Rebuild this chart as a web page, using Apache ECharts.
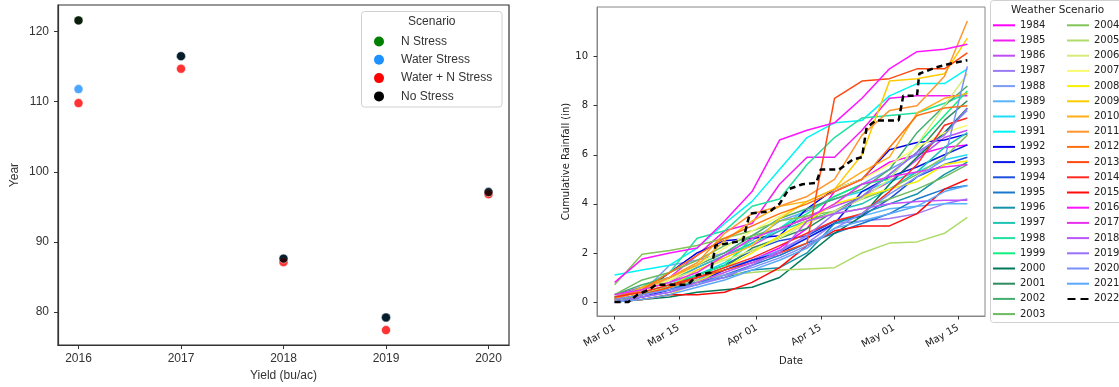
<!DOCTYPE html>
<html>
<head>
<meta charset="utf-8">
<script src="https://cdn.jsdelivr.net/npm/echarts@6/dist/echarts.min.js"></script>
<style>
  html, body { margin: 0; padding: 0; background: #fff; }
  #main { width: 1119px; height: 387px; }
</style>
</head>
<body>
<div id="main"></div>
<script>
// ---- left panel: yield by scenario ----
var yieldYears = [2016, 2017, 2018, 2019, 2020];
var nStress = [121.6, 116.5, 87.6, 79.2, 97.1];
var waterStress = [111.8, 116.5, 87.6, 79.2, 97.1];
var waterNStress = [109.8, 114.7, 87.1, 77.4, 96.8];
var noStress = [121.6, 116.5, 87.6, 79.2, 97.1];
var scenarioNames = ['N Stress', 'Water Stress', 'Water + N Stress', 'No Stress'];

// ---- right panel: cumulative rainfall (in), sampled on gridDays (days after Mar 01) ----
var gridDays = [0, 6, 12, 18, 24, 30, 36, 42, 48, 54, 60, 66, 72, 77];
var rain1984 = [0.2, 0.4, 0.6, 1.0, 1.3, 1.7, 2.2, 3.0, 4.5, 5.0, 5.7, 6.0, 6.3, 6.4];
var rain1985 = [0.3, 0.6, 1.0, 1.9, 2.9, 3.2, 4.8, 5.9, 5.9, 7.0, 8.3, 8.4, 8.4, 8.4];
var rain1986 = [0.2, 0.5, 0.8, 1.4, 1.9, 2.3, 2.9, 3.5, 3.9, 4.3, 4.9, 5.8, 6.7, 7.0];
var rain1987 = [0.1, 0.3, 0.6, 0.9, 1.3, 1.7, 1.9, 2.4, 3.2, 3.3, 3.4, 3.6, 4.0, 4.2];
var rain1988 = [0.1, 0.4, 1.5, 1.7, 2.0, 2.5, 3.3, 3.7, 4.3, 4.8, 5.4, 6.0, 6.9, 7.8];
var rain1989 = [0.0, 0.2, 0.5, 0.9, 1.4, 1.7, 2.1, 2.6, 3.2, 3.5, 3.8, 3.9, 4.0, 4.0];
var rain1990 = [0.2, 0.5, 0.8, 1.1, 1.6, 2.4, 3.0, 3.8, 4.2, 4.5, 4.9, 5.3, 5.8, 6.0];
var rain1991 = [1.1, 1.3, 1.5, 2.2, 3.2, 4.1, 5.4, 6.7, 7.3, 7.4, 8.4, 8.9, 8.9, 9.5];
var rain1992 = [0.1, 0.4, 1.2, 2.0, 2.5, 2.6, 2.7, 3.8, 4.6, 5.0, 6.2, 6.5, 6.6, 6.85];
var rain1993 = [0.0, 0.2, 0.5, 0.8, 1.3, 1.7, 2.0, 2.6, 3.2, 4.5, 5.1, 5.5, 6.0, 6.4];
var rain1994 = [0.1, 0.3, 0.6, 1.1, 1.5, 2.1, 2.5, 2.7, 3.3, 3.5, 4.2, 5.1, 5.6, 5.9];
var rain1995 = [0.1, 0.3, 0.5, 0.8, 1.1, 1.5, 1.9, 2.4, 2.8, 3.2, 3.6, 4.2, 4.6, 4.75];
var rain1996 = [0.2, 0.4, 0.6, 0.8, 1.0, 1.3, 1.4, 2.0, 3.2, 3.6, 4.0, 4.4, 5.2, 5.7];
var rain1997 = [0.1, 0.5, 0.9, 1.4, 1.9, 2.4, 2.9, 3.3, 3.7, 4.0, 4.6, 5.3, 6.3, 6.9];
var rain1998 = [0.2, 0.6, 1.2, 2.6, 2.9, 3.9, 4.2, 5.6, 6.7, 7.5, 7.6, 7.7, 8.1, 8.5];
var rain1999 = [0.0, 0.3, 0.7, 1.1, 1.5, 2.6, 3.0, 3.6, 4.3, 4.8, 5.0, 6.4, 7.6, 8.6];
var rain2000 = [0.0, 0.1, 0.2, 0.4, 0.5, 0.6, 1.0, 1.9, 2.8, 3.5, 4.8, 5.9, 6.9, 7.9];
var rain2001 = [0.1, 0.3, 0.6, 1.0, 1.4, 2.2, 2.6, 3.0, 3.7, 4.3, 5.2, 6.1, 7.4, 8.2];
var rain2002 = [0.3, 0.7, 1.0, 1.5, 2.0, 2.7, 3.4, 3.8, 4.2, 4.6, 5.4, 6.9, 8.0, 8.8];
var rain2003 = [0.3, 0.9, 1.2, 1.7, 2.3, 2.7, 3.0, 3.4, 3.6, 3.8, 4.2, 4.6, 5.1, 5.6];
var rain2004 = [0.7, 1.95, 2.1, 2.3, 2.6, 2.9, 3.3, 3.5, 3.7, 4.2, 4.6, 5.2, 5.9, 6.8];
var rain2005 = [0.2, 0.4, 0.6, 0.9, 1.1, 1.2, 1.3, 1.35, 1.4, 2.0, 2.4, 2.45, 2.8, 3.45];
var rain2006 = [0.2, 0.5, 0.9, 1.3, 1.7, 2.1, 2.6, 3.2, 3.7, 4.2, 5.0, 6.4, 8.0, 9.3];
var rain2007 = [0.1, 0.4, 0.9, 1.5, 2.2, 2.9, 3.5, 4.1, 4.6, 5.0, 5.6, 6.3, 6.9, 7.2];
var rain2008 = [0.0, 0.1, 0.3, 0.8, 1.4, 2.0, 2.7, 3.3, 4.0, 4.3, 4.6, 4.9, 5.6, 5.75];
var rain2009 = [0.1, 0.3, 0.6, 1.3, 1.8, 2.3, 3.4, 4.1, 4.6, 6.0, 9.0, 9.1, 9.3, 10.75];
var rain2010 = [0.1, 0.6, 1.0, 1.5, 2.5, 3.3, 3.9, 4.1, 4.6, 5.3, 5.9, 7.7, 8.3, 8.5];
var rain2011 = [0.1, 0.5, 1.0, 1.6, 2.8, 3.6, 3.9, 4.3, 5.0, 6.8, 7.8, 8.0, 9.2, 11.45];
var rain2012 = [0.2, 0.5, 1.2, 1.9, 2.6, 3.1, 3.6, 4.0, 4.5, 5.0, 6.3, 7.6, 7.9, 8.0];
var rain2013 = [0.1, 0.3, 0.6, 1.0, 1.3, 1.6, 2.0, 2.4, 8.3, 9.0, 9.1, 9.5, 9.5, 10.15];
var rain2014 = [0.2, 0.4, 0.7, 1.0, 1.4, 1.8, 2.3, 2.8, 3.3, 3.6, 4.5, 5.6, 7.2, 7.5];
var rain2015 = [0.0, 0.1, 0.3, 0.3, 0.4, 0.8, 1.4, 2.3, 2.9, 3.1, 3.1, 3.6, 4.6, 5.0];
var rain2016 = [0.8, 1.75, 2.0, 2.2, 3.3, 4.5, 6.6, 7.0, 7.3, 8.3, 9.5, 10.2, 10.3, 10.5];
var rain2017 = [0.3, 0.5, 0.8, 1.2, 1.9, 2.6, 3.0, 3.4, 4.0, 4.8, 5.1, 5.3, 5.5, 5.6];
var rain2018 = [0.0, 0.2, 0.4, 0.8, 1.2, 1.6, 2.0, 3.3, 3.6, 3.8, 4.0, 4.1, 4.15, 4.15];
var rain2019 = [0.0, 0.2, 0.4, 0.7, 1.0, 1.5, 2.1, 2.7, 3.6, 4.3, 5.2, 6.1, 6.8, 7.9];
var rain2020 = [0.1, 0.3, 0.5, 0.7, 1.1, 1.4, 1.8, 2.3, 3.0, 3.6, 4.4, 5.1, 5.8, 9.6];
var rain2021 = [0.0, 0.1, 0.3, 0.6, 0.9, 1.3, 1.7, 2.2, 3.0, 3.3, 3.6, 3.9, 4.5, 4.75];
// 2022 (current season) traced in more detail
var days2022 = [0, 3, 5, 7.5, 9, 16, 18, 21, 22, 28, 29.5, 34, 36, 38, 41, 44, 45, 49, 52, 54, 55, 57, 62, 63, 66, 66.5, 70, 73, 77];
var rain2022 = [0, 0, 0.3, 0.5, 0.7, 0.7, 1.1, 1.2, 2.3, 2.5, 3.6, 3.7, 4.0, 4.6, 4.8, 4.85, 5.4, 5.4, 5.8, 5.9, 7.1, 7.4, 7.4, 8.4, 8.4, 9.3, 9.55, 9.7, 9.85];

var weatherYears = [];
for (var y = 1984; y <= 2021; y++) weatherYears.push(y);
var rainSeries = [rain1984, rain1985, rain1986, rain1987, rain1988, rain1989, rain1990, rain1991,
  rain1992, rain1993, rain1994, rain1995, rain1996, rain1997, rain1998, rain1999, rain2000,
  rain2001, rain2002, rain2003, rain2004, rain2005, rain2006, rain2007, rain2008, rain2009,
  rain2010, rain2011, rain2012, rain2013, rain2014, rain2015, rain2016, rain2017, rain2018,
  rain2019, rain2020, rain2021];

var dateTickDays = [0, 14, 31, 45, 61, 75];
var dateTickLabels = ['Mar 01', 'Mar 15', 'Apr 01', 'Apr 15', 'May 01', 'May 15'];

// styles
var scenarioColors = ['#008000', '#1e90ff', '#ff0000', '#000000'];
var lineColors = ['#ff00ff', '#f01ef0', '#c04cf5', '#9b7bf5', '#7b9cf7', '#5ab4fa', '#22dcf5', '#00f5f5',
  '#0000ee', '#0a18e8', '#1f50dd', '#1a78cc', '#1593aa', '#1ec4b4', '#22e0a0', '#10f080',
  '#00785a', '#2e8b60', '#45ad70', '#6cbb60', '#82c45a', '#aedb6a', '#d6ec78', '#fafa6e',
  '#f8f000', '#fccc00', '#ffae1a', '#ff952e', '#ff7010', '#ff4a10', '#ff2a20', '#ff0a0a',
  '#ff14ff', '#e830f0', '#bd55fa', '#9970fa', '#7890fa', '#5aa8fa'];

var leftFont = '"Liberation Sans", Arial, sans-serif';
var rightFont = '"DejaVu Sans", sans-serif';

function pairs(xs, ys) {
  return xs.map(function (x, i) { return [x, ys[i]]; });
}

var series = [];
[nStress, waterStress, waterNStress, noStress].forEach(function (vals, i) {
  series.push({
    name: scenarioNames[i],
    type: 'scatter',
    xAxisIndex: 0,
    yAxisIndex: 0,
    symbolSize: 9,
    data: pairs(yieldYears, vals),
    itemStyle: { color: scenarioColors[i], opacity: 0.8, borderColor: '#fff', borderWidth: 0.6 }
  });
});

weatherYears.forEach(function (yr, i) {
  series.push({
    name: String(yr),
    type: 'line',
    xAxisIndex: 1,
    yAxisIndex: 1,
    symbol: 'none',
    data: pairs(gridDays, rainSeries[i]),
    lineStyle: { color: lineColors[i], width: 1.5 },
    itemStyle: { color: lineColors[i] }
  });
});
series.push({
  name: '2022',
  type: 'line',
  xAxisIndex: 1,
  yAxisIndex: 1,
  symbol: 'none',
  data: pairs(days2022, rain2022),
  lineStyle: { color: '#000', width: 2.5, type: [6, 4] },
  itemStyle: { color: '#000' }
});

var legendCol1 = weatherYears.slice(0, 20).map(String);
var legendCol2 = weatherYears.slice(20).map(String);
legendCol2.push({ name: '2022', icon: 'path://M0,0h8v2h-8z M13,0h8v2h-8z' });

var chart = echarts.init(document.getElementById('main'));
var option = {
  animation: false,
  grid: [
    { left: 58, right: 610, top: 5, bottom: 41, show: true, borderColor: '#333', borderWidth: 1.2 },
    { left: 597, right: 134, top: 7, bottom: 71, show: true, borderColor: '#888', borderWidth: 1 }
  ],
  xAxis: [
    {
      type: 'value', gridIndex: 0, min: 2015.8, max: 2020.2,
      name: 'Yield (bu/ac)', nameLocation: 'middle', nameGap: 24,
      nameTextStyle: { fontFamily: leftFont, fontSize: 12, color: '#333' },
      axisLine: { show: true, onZero: false, lineStyle: { color: '#333', width: 1.2 } },
      axisTick: { show: true, length: 4, customValues: yieldYears, lineStyle: { color: '#333' } },
      axisLabel: { customValues: yieldYears, margin: 8, fontFamily: leftFont, fontSize: 12, color: '#333',
        formatter: function (v) { return String(v); } },
      splitLine: { show: false }
    },
    {
      type: 'value', gridIndex: 1, min: -3.85, max: 80.85,
      name: 'Date', nameLocation: 'middle', nameGap: 40,
      nameTextStyle: { fontFamily: rightFont, fontSize: 10, color: '#222' },
      axisLine: { show: true, onZero: false, lineStyle: { color: '#888' } },
      axisTick: { show: true, length: 3.5, customValues: dateTickDays, lineStyle: { color: '#333' } },
      axisLabel: { customValues: dateTickDays, rotate: 30, margin: 11, fontFamily: rightFont, fontSize: 10, color: '#222',
        formatter: function (v) { return dateTickLabels[dateTickDays.indexOf(v)]; } },
      splitLine: { show: false }
    }
  ],
  yAxis: [
    {
      type: 'value', gridIndex: 0, min: 75.26, max: 123.8,
      name: 'Year', nameLocation: 'middle', nameGap: 37,
      nameTextStyle: { fontFamily: leftFont, fontSize: 12, color: '#333' },
      axisLine: { show: true, onZero: false, lineStyle: { color: '#333', width: 1.2 } },
      axisTick: { show: true, length: 4, customValues: [80, 90, 100, 110, 120], lineStyle: { color: '#333' } },
      axisLabel: { customValues: [80, 90, 100, 110, 120], margin: 9, fontFamily: leftFont, fontSize: 12, color: '#333' },
      splitLine: { show: false }
    },
    {
      type: 'value', gridIndex: 1, min: -0.57, max: 12.02,
      name: 'Cumulative Rainfall (in)', nameLocation: 'middle', nameGap: 26,
      nameTextStyle: { fontFamily: rightFont, fontSize: 10, color: '#222' },
      axisLine: { show: true, onZero: false, lineStyle: { color: '#888' } },
      axisTick: { show: true, length: 3.5, customValues: [0, 2, 4, 6, 8, 10], lineStyle: { color: '#333' } },
      axisLabel: { customValues: [0, 2, 4, 6, 8, 10], margin: 9, fontFamily: rightFont, fontSize: 10, color: '#222' },
      splitLine: { show: false }
    }
  ],
  legend: [
    {
      data: scenarioNames, orient: 'vertical', left: 374, top: 35.5, padding: 0,
      icon: 'circle', itemWidth: 34, itemHeight: 10, itemGap: 6.3, selectedMode: false,
      itemStyle: { opacity: 1, borderWidth: 0 },
      textStyle: { fontFamily: leftFont, fontSize: 12, color: '#333' }
    },
    {
      data: legendCol1, orient: 'vertical', left: 993, top: 20.3, padding: 0,
      icon: 'rect', itemWidth: 22, itemHeight: 2, itemGap: 5.2, selectedMode: false,
      textStyle: { fontFamily: rightFont, fontSize: 10, color: '#222' }
    },
    {
      data: legendCol2, orient: 'vertical', left: 1067, top: 20.3, padding: 0,
      icon: 'rect', itemWidth: 22, itemHeight: 2, itemGap: 5.2, selectedMode: false,
      textStyle: { fontFamily: rightFont, fontSize: 10, color: '#222' }
    }
  ],
  graphic: [
    { type: 'rect', z: -1, shape: { x: 361.5, y: 11.5, width: 140.5, height: 95.5, r: 3 },
      style: { fill: 'rgba(255,255,255,0.8)', stroke: '#d0d0d0', lineWidth: 1 } },
    { type: 'text', x: 431.8, y: 21.7,
      style: { text: 'Scenario', fontFamily: leftFont, fontSize: 12, fill: '#333', align: 'center', verticalAlign: 'middle' } },
    { type: 'rect', z: -1, shape: { x: 990.5, y: 0.5, width: 140, height: 322, r: 3 },
      style: { fill: 'rgba(255,255,255,0.8)', stroke: '#d0d0d0', lineWidth: 1 } },
    { type: 'text', x: 1057.7, y: 10,
      style: { text: 'Weather Scenario', fontFamily: rightFont, fontSize: 10.5, fill: '#222', align: 'center', verticalAlign: 'middle' } }
  ],
  series: series
};
chart.setOption(option);
</script>
</body>
</html>
